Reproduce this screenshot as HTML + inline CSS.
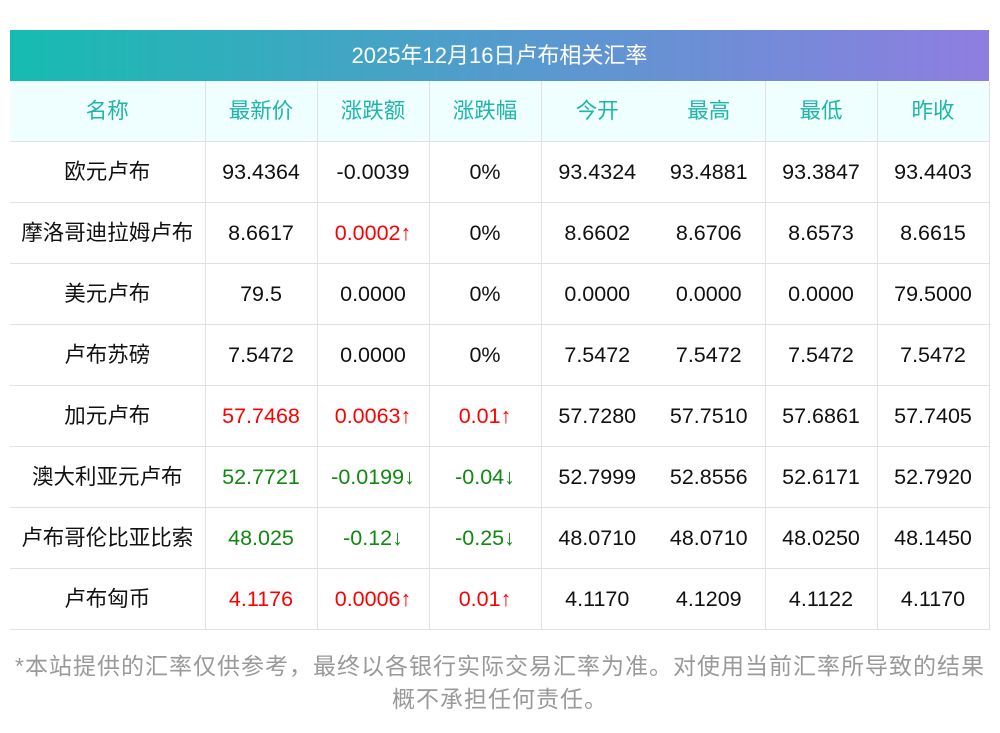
<!DOCTYPE html>
<html><head><meta charset="utf-8"><style>
body{margin:0;width:1000px;height:733px;background:#fff;font-family:"Liberation Sans","Noto Sans CJK SC",sans-serif;position:relative;overflow:hidden}
.title{position:absolute;left:10px;top:30px;width:979px;height:51px;background:linear-gradient(90deg,#16bcb0,#5a98d0 55%,#8f7de0);color:#fff;font-size:22px;text-align:center;line-height:51px}
table{position:absolute;left:10px;top:81px;border-collapse:collapse;width:979px;table-layout:fixed}
td{height:60px;line-height:60px;border-bottom:1px solid #dfe0e8;border-right:1px solid #dfe0e8;text-align:center;font-size:21.5px;color:#111;padding:0;vertical-align:middle;white-space:nowrap}
tr.h td{background:#effefe;color:#1fb5a8}
td.nb{border-right:none}
.r{color:#f00}.g{color:#118811}
.foot{position:absolute;left:0;top:650px;width:1000px;text-align:center;color:#999;font-size:23px;letter-spacing:1px;line-height:33px}
</style></head><body>
<div class="title">2025年12月16日卢布相关汇率</div>
<table>
<colgroup><col style="width:195px"><col style="width:112px"><col style="width:112px"><col style="width:112px"><col style="width:112px"><col style="width:112px"><col style="width:112px"><col style="width:112px"></colgroup>
<tr class="h"><td>名称</td><td>最新价</td><td>涨跌额</td><td>涨跌幅</td><td class="nb">今开</td><td>最高</td><td>最低</td><td>昨收</td></tr>
<tr><td>欧元卢布</td><td>93.4364</td><td>-0.0039</td><td>0%</td><td class="nb">93.4324</td><td>93.4881</td><td>93.3847</td><td>93.4403</td></tr>
<tr><td>摩洛哥迪拉姆卢布</td><td>8.6617</td><td class="r">0.0002↑</td><td>0%</td><td class="nb">8.6602</td><td>8.6706</td><td>8.6573</td><td>8.6615</td></tr>
<tr><td>美元卢布</td><td>79.5</td><td>0.0000</td><td>0%</td><td class="nb">0.0000</td><td>0.0000</td><td>0.0000</td><td>79.5000</td></tr>
<tr><td>卢布苏磅</td><td>7.5472</td><td>0.0000</td><td>0%</td><td class="nb">7.5472</td><td>7.5472</td><td>7.5472</td><td>7.5472</td></tr>
<tr><td>加元卢布</td><td class="r">57.7468</td><td class="r">0.0063↑</td><td class="r">0.01↑</td><td class="nb">57.7280</td><td>57.7510</td><td>57.6861</td><td>57.7405</td></tr>
<tr><td>澳大利亚元卢布</td><td class="g">52.7721</td><td class="g">-0.0199↓</td><td class="g">-0.04↓</td><td class="nb">52.7999</td><td>52.8556</td><td>52.6171</td><td>52.7920</td></tr>
<tr><td>卢布哥伦比亚比索</td><td class="g">48.025</td><td class="g">-0.12↓</td><td class="g">-0.25↓</td><td class="nb">48.0710</td><td>48.0710</td><td>48.0250</td><td>48.1450</td></tr>
<tr><td>卢布匈币</td><td class="r">4.1176</td><td class="r">0.0006↑</td><td class="r">0.01↑</td><td class="nb">4.1170</td><td>4.1209</td><td>4.1122</td><td>4.1170</td></tr>
</table>
<div class="foot">*本站提供的汇率仅供参考，最终以各银行实际交易汇率为准。对使用当前汇率所导致的结果<br>概不承担任何责任。</div>
</body></html>
